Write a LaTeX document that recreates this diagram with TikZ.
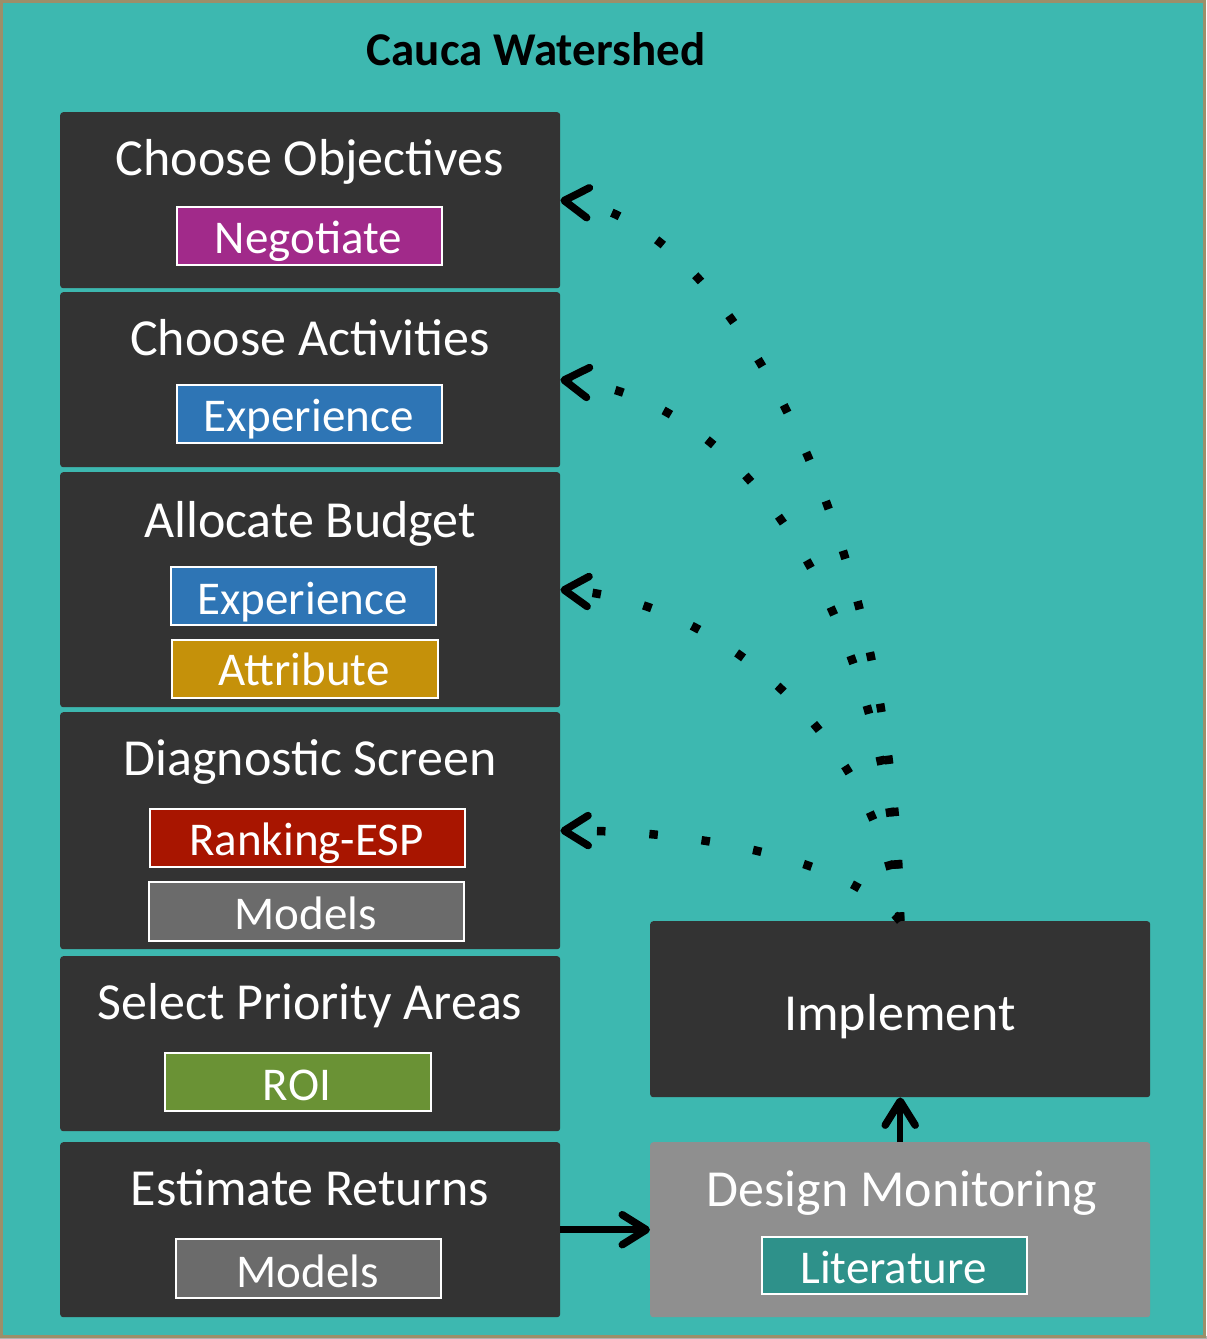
\documentclass[tikz,border=0pt]{standalone}
\usepackage{fontspec}
\setmainfont{Carlito}
\usetikzlibrary{arrows.meta}
\definecolor{bgteal}{HTML}{3DB8B0}
\definecolor{framecol}{HTML}{9C8F6A}
\definecolor{darkbox}{HTML}{333333}
\definecolor{greybox}{HTML}{8F8F8F}
\definecolor{cpurple}{HTML}{A12A8A}
\definecolor{cblue}{HTML}{2E75B5}
\definecolor{cgold}{HTML}{C5910A}
\definecolor{cred}{HTML}{A81500}
\definecolor{cgrey}{HTML}{6B6B6B}
\definecolor{cgreen}{HTML}{6A9235}
\definecolor{cteal}{HTML}{2E918A}
\tikzset{
  mainbox/.style={fill=darkbox, rounded corners=3pt, anchor=north west, inner sep=0pt, minimum width=500pt},
  subbox/.style={fill=#1, draw=white, line width=2pt, anchor=north west, inner sep=0pt, minimum height=58pt},
  titletxt/.style={text=white, font=\fontsize{52}{60}\selectfont, anchor=base, inner sep=0pt},
  subtxt/.style={text=white, font=\fontsize{47}{56}\selectfont, anchor=base, inner sep=0pt},
  tipshape/.style={-{Straight Barb[length=24pt,width=30pt,line width=7.5pt,line cap=round,line join=round]}},
  dotarrow/.style={line width=8.5pt, line cap=butt, dash pattern=on 8.5pt off 44pt, tipshape},
  solidarrow/.style={line width=6.5pt, tipshape}
}
\begin{document}
\begin{tikzpicture}[x=1pt,y=-1pt]
\useasboundingbox (0,0) rectangle (1207,1339);
\fill[black!30] (0,1336) rectangle (1207,1339);
\filldraw[fill=bgteal, draw=framecol, line width=3pt] (1.5,1.5) rectangle (1204.5,1336);
\node[anchor=base, inner sep=0pt, font=\bfseries\fontsize{47}{56}\selectfont] (title) at (536,65) {Cauca Watershed};

% main boxes
\node[mainbox, minimum height=176pt] (obj) at (60,112) {};
\node[mainbox, minimum height=175pt] (act) at (60,292) {};
\node[mainbox, minimum height=235pt] (bud) at (60,472) {};
\node[mainbox, minimum height=237pt] (diag) at (60,712) {};
\node[mainbox, minimum height=175pt] (sel) at (60,956) {};
\node[mainbox, minimum height=175pt] (est) at (60,1142) {};
\node[mainbox, minimum height=176pt] (impl) at (650,921) {};
\node[mainbox, fill=greybox, minimum height=175pt] (dm) at (650,1142) {};

% titles
\node[titletxt] (objt) at (310,175) {Choose Objectives};
\node[titletxt] (actt) at (310,355) {Choose Activities};
\node[titletxt] (budt) at (310,537) {Allocate Budget};
\node[titletxt] (diagt) at (310,775) {Diagnostic Screen};
\node[titletxt] (selt) at (310,1019) {Select Priority Areas};
\node[titletxt] (estt) at (310,1205) {Estimate Returns};
\node[titletxt] (implt) at (900,1030) {Implement};
\node[titletxt] (dmt) at (902,1206) {Design Monitoring};

% sub boxes
\node[subbox=cpurple, minimum width=265pt] (negb) at (176,206) {};
\node[subtxt] (negt) at (308.5,253) {Negotiate};
\node[subbox=cblue, minimum width=265pt] (exp1b) at (176,384) {};
\node[subtxt] (exp1t) at (308.5,431) {Experience};
\node[subbox=cblue, minimum width=265pt] (exp2b) at (170,566) {};
\node[subtxt] (exp2t) at (302.5,614) {Experience};
\node[subbox=cgold, minimum width=266pt] (attb) at (171,639) {};
\node[subtxt] (attt) at (304,685) {Attribute};
\node[subbox=cred, minimum width=315pt] (rankb) at (149,808) {};
\node[subtxt] (rankt) at (306.5,855) {Ranking-ESP};
\node[subbox=cgrey, minimum width=315pt, minimum height=59pt] (mod1b) at (148,881) {};
\node[subtxt] (mod1t) at (305.5,929) {Models};
\node[subbox=cgreen, minimum width=266pt] (roib) at (164,1052) {};
\node[subtxt] (roit) at (297,1100) {ROI};
\node[subbox=cgrey, minimum width=265pt, minimum height=59pt] (mod2b) at (175,1238) {};
\node[subtxt] (mod2t) at (307.5,1287) {Models};
\node[subbox=cteal, minimum width=265pt, minimum height=57pt] (litb) at (761,1236) {};
\node[subtxt] (litt) at (893.5,1283) {Literature};

% dotted feedback arrows
\draw[dotarrow] (impl.north) .. controls (895,520) and (720,215) .. (obj.east);
\draw[dotarrow] (impl.north) .. controls (890,640) and (760,400) .. (act.east);
\draw[dotarrow] (impl.north) .. controls (880,740) and (720,600) .. (bud.east);
\draw[dotarrow] (impl.north) .. controls (850,860) and (700,830) .. (diag.east);

% solid arrows
\draw[solidarrow] (est.east) -- (dm.west);
\draw[solidarrow] (dm.north) -- (impl.south);
\end{tikzpicture}
\end{document}
